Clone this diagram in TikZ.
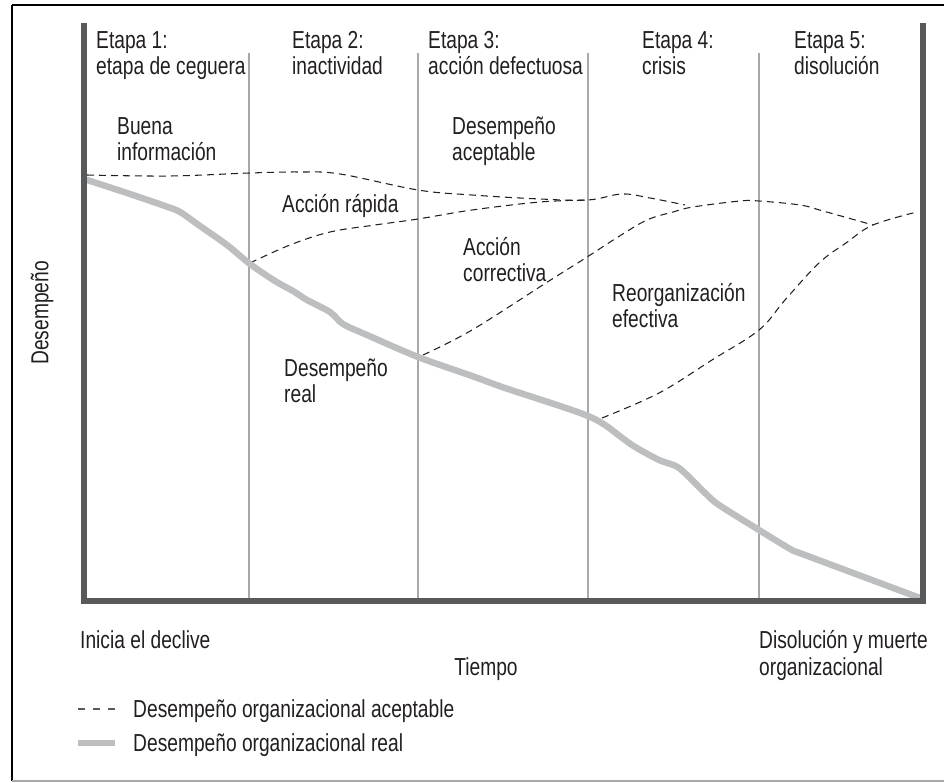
\documentclass[tikz,border=0pt]{standalone}
\usepackage{fontspec}
\setmainfont{Liberation Sans}[FakeStretch=0.78]
\usepackage{tikz}
\definecolor{kaxis}{HTML}{58595B}
\definecolor{kreal}{HTML}{BCBEC0}
\definecolor{kgrid}{HTML}{A7A9AC}
\definecolor{kink}{HTML}{231F20}

\begin{document}
\begin{tikzpicture}[x=0.3mm, y=-0.3mm,
  lbl/.style={font=\fontsize{21}{23}\selectfont, text=kink, inner sep=0pt, anchor=base west, align=left},
  accept/.style={kink, line width=0.9pt, dash pattern=on 2.1mm off 1.5mm},
  realline/.style={kreal, line width=5.5pt, line join=round, line cap=round}]
\useasboundingbox (0,0) rectangle (944,783);
% frame
\draw[black, line width=2.4pt] (12,5) -- (944,5);
\draw[black, line width=1.7pt] (12,5) -- (12,781);
\draw[kgrid, line width=0.9pt] (12,781) -- (944,781);
% stage dividers
\foreach \x in {249,418,588,759}
  \draw[kgrid, line width=0.9pt] (\x,53) -- (\x,601);
% acceptable performance
\draw[accept] plot[smooth, tension=0.6] coordinates {(87,175) (170,176) (250,173) (300,172) (340,174) (418,190) (472,195) (540,199) (588,200) (622,194) (650,198) (685,205)};
\draw[accept] plot[smooth, tension=0.6] coordinates {(250,263) (290,245) (330,232) (375,225) (418,219) (472,210) (540,202) (588,200)};
\draw[accept] plot[smooth, tension=0.6] coordinates {(423,355) (472,330) (549,281) (584,259) (618,237) (647,220) (673,212) (693,207) (740,201) (759,201) (800,205) (823,211) (873,225)};
\draw[accept] plot[smooth, tension=0.6] coordinates {(602,418) (659,393) (712,360) (759,330) (785,300) (819,263) (846,243) (873,225) (917,212)};
% real performance
\draw[realline] plot[smooth, tension=0.5] coordinates {(87,180) (127,193) (165,206) (180,212) (200,226) (227,245) (250,264) (275,281) (293,291) (307,300) (330,312) (343,324) (367,335) (418,357) (472,376) (505,388) (560,406) (588,416) (605,425) (632,445) (659,460) (679,468) (705,493) (719,505) (759,530) (792,550) (805,555) (920,598)};
% axes
\draw[kaxis, line width=5.1pt] (84,23) -- (84,601) -- (923,601) -- (923,23);
% stage labels (base = last line)
\node[lbl] (stage1) at (96,75) {Etapa 1:\\etapa de ceguera};
\node[lbl] (stage2) at (292,75) {Etapa 2:\\inactividad};
\node[lbl] (stage3) at (428,75) {Etapa 3:\\acción defectuosa};
\node[lbl] (stage4) at (642,75) {Etapa 4:\\crisis};
\node[lbl] (stage5) at (794,75) {Etapa 5:\\disolución};
% curve labels
\node[lbl] (buena) at (117,161) {Buena\\información};
\node[lbl] (aceptable) at (452,161) {Desempeño\\aceptable};
\node[lbl] (rapida) at (282,213) {Acción rápida};
\node[lbl] (correctiva) at (463,282) {Acción\\correctiva};
\node[lbl] (reorg) at (612,328) {Reorganización\\efectiva};
\node[lbl] (real) at (284,403) {Desempeño\\real};
\node[lbl, rotate=90, anchor=center] (yaxis) at (42,313) {Desempeño};
% time axis
\node[lbl] (inicia) at (80,648) {Inicia el declive};
\node[lbl, anchor=base] (tiempo) at (486,675) {Tiempo};
\node[lbl] (disolucion) at (759,675) {Disolución y muerte\\organizacional};
% legend
\draw[accept, kink!75, dash pattern=on 2.2mm off 2.3mm] (78,709) -- (118,709);
\node[lbl] (legacc) at (133,717) {Desempeño organizacional aceptable};
\draw[kreal, line width=4.5pt] (78,743) -- (115,743);
\node[lbl] (legreal) at (133,751) {Desempeño organizacional real};
\end{tikzpicture}
\end{document}
